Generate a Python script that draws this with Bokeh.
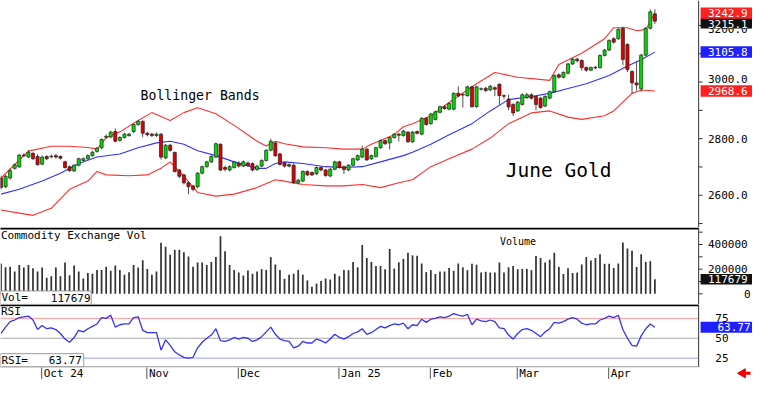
import math
from bokeh.plotting import figure
from bokeh.layouts import column
from bokeh.models import Range1d, ColumnDataSource
from bokeh.embed import file_html
from bokeh.resources import INLINE
from bokeh.core.properties import value

# ---------------- data ----------------
open_ = [2661,2630,2661,2695,2700,2742,2735,2748,2737,2710,2737,2736,2740,2737,2718,2701,2686,2706,2723,2729,
         2740,2755,2768,2805,2806,2825,2794,2804,2811,2825,2850,2861,2819,2816,2811,2816,2732,2777,2751,2689,
         2672,2644,2633,2630,2678,2701,2718,2735,2780,2698,2689,2698,2714,2703,2714,2712,2691,2703,2723,2759,
         2785,2746,2714,2708,2706,2644,2650,2684,2680,2676,2698,2689,2668,2692,2718,2701,2689,2706,2725,2735,
         2763,2729,2737,2768,2793,2785,2804,2816,2811,2823,2789,2825,2816,2872,2853,2868,2893,2913,2904,2904,
         2960,2954,2952,2983,2913,2975,2978,2972,2980,2992,2952,2940,2921,2898,2921,2945,2955,2949,2943,2915,
         2943,2966,3026,3017,3031,3064,3081,3076,3051,3042,3050,3051,3094,3113,3153,3153,3190,3133,3037,2997,
         2976,3095,3190,3241]
high = [2668,2672,2695,2712,2745,2748,2760,2752,2745,2740,2742,2744,2746,2741,2722,2705,2710,2733,2734,2745,
        2757,2771,2801,2815,2828,2836,2809,2821,2820,2854,2866,2865,2824,2821,2822,2820,2781,2782,2755,2693,
        2676,2650,2637,2682,2705,2722,2741,2786,2784,2705,2706,2722,2720,2723,2719,2716,2708,2727,2763,2800,
        2790,2750,2718,2713,2712,2658,2688,2688,2684,2702,2702,2693,2696,2722,2722,2705,2710,2733,2744,2775,
        2767,2744,2772,2797,2797,2808,2820,2820,2831,2827,2827,2829,2876,2876,2891,2899,2917,2917,2928,2964,
        2985,2960,2987,2987,2987,2981,2983,2990,2985,2996,2956,2955,2925,2933,2960,2962,2960,2953,2947,2953,
        2970,3027,3030,3038,3068,3085,3086,3080,3055,3055,3057,3098,3117,3151,3158,3192,3196,3137,3042,3075,
        3100,3194,3257,3257]
low = [2620,2625,2655,2690,2698,2735,2732,2725,2705,2706,2724,2730,2730,2726,2694,2683,2682,2702,2719,2725,
       2736,2750,2763,2799,2801,2787,2789,2800,2807,2820,2845,2805,2808,2806,2806,2726,2728,2754,2680,2660,
       2638,2604,2614,2625,2674,2697,2714,2731,2685,2684,2684,2694,2698,2699,2700,2684,2686,2699,2719,2755,
       2736,2705,2698,2698,2640,2638,2646,2668,2668,2672,2685,2665,2664,2688,2694,2675,2685,2702,2721,2731,
       2721,2725,2733,2764,2778,2762,2800,2790,2807,2785,2785,2815,2812,2846,2849,2864,2889,2902,2900,2900,
       2946,2910,2948,2909,2909,2970,2965,2968,2950,2920,2940,2900,2880,2894,2917,2940,2938,2900,2906,2911,
       2939,2962,3012,3013,3027,3060,3070,3040,3036,3038,3045,3047,3090,3109,3136,3149,3060,3035,2959,2970,
       2965,3090,3186,3205]
close_ = [2627,2667,2687,2708,2742,2740,2752,2729,2708,2735,2729,2738,2735,2731,2698,2687,2706,2729,2729,2740,
          2752,2766,2797,2808,2823,2791,2804,2816,2816,2850,2861,2819,2814,2811,2816,2735,2777,2759,2684,2667,
          2644,2630,2621,2678,2701,2718,2737,2782,2689,2692,2701,2718,2703,2718,2705,2689,2703,2723,2759,2791,
          2740,2709,2703,2703,2644,2653,2684,2672,2672,2698,2689,2670,2692,2718,2698,2691,2706,2729,2740,2763,
          2725,2740,2768,2793,2782,2804,2816,2812,2827,2789,2823,2819,2872,2850,2887,2895,2913,2906,2924,2960,
          2951,2956,2983,2913,2983,2976,2970,2985,2975,2952,2950,2912,2891,2929,2955,2955,2943,2921,2910,2949,
          2966,3023,3017,3034,3064,3081,3075,3051,3042,3051,3052,3094,3113,3147,3141,3186,3080,3044,2997,2990,
          3095,3190,3248,3215.1]
volume = [246000,215000,220000,181000,233000,213000,233000,208000,181000,213000,130000,143000,213000,143000,254000,151000,229000,181000,125000,169000,
          163000,194000,194000,220000,187000,229000,194000,155000,176000,233000,213000,273000,202000,155000,181000,415000,381000,316000,357000,357000,
          337000,303000,220000,254000,254000,233000,259000,298000,467000,345000,233000,194000,173000,148000,190000,163000,181000,200000,194000,298000,
          238000,194000,122000,155000,163000,194000,155000,109000,57000,83000,104000,125000,116000,163000,143000,194000,192000,259000,215000,395000,
          291000,259000,226000,226000,200000,363000,205000,256000,283000,334000,312000,309000,246000,176000,192000,161000,181000,181000,210000,187000,
          246000,215000,192000,244000,236000,173000,179000,173000,173000,254000,173000,215000,226000,200000,202000,202000,192000,306000,291000,254000,
          277000,334000,218000,161000,208000,169000,172000,238000,298000,270000,291000,321000,244000,244000,210000,246000,417000,368000,350000,218000,
          321000,259000,265000,117679]
rsi = [56,64,71,73,76,77,78,73,61,66,62,63,61,56,49,45,51,60,58,62,65,68,76,75,79,64,67,68,68,76,77,60,57,57,57,35,48,41,33,29,26,25,26,38,
       45,50,54,62,47,46,48,51,49,51,50,46,48,52,58,64,55,49,47,46,38,40,46,44,44,49,47,44,49,55,51,49,52,56,58,62,55,57,61,65,
       63,66,68,67,69,62,67,66,74,70,74,75,77,76,78,81,79,78,80,67,74,72,71,73,71,63,62,54,49,56,61,62,60,56,52,58,62,70,69,71,
       74,76,74,69,67,68,68,73,75,78,76,79,61,50,41,40,53,62,68,63.77]

upper_day = [0,6,11,15,19,21,23,26,30,33,37,40,43,47,51,56,58,60,62,66,71,75,79,81,86,88,90,94,99,104,108,113,120,122,127,132,134,137,139,141,143]
upper = [2661,2756,2773,2773,2769,2763,2803,2824,2864,2892,2864,2892,2909,2888,2847,2791,2774,2791,2782,2771,2768,2763,2763,2780,2814,2842,2853,2881,2939,2994,3034,3017,3006,3062,3102,3153,3192,3192,3181,3186,3242.9]
mid_day = [0,4,9,13,17,21,26,30,34,37,40,43,47,51,56,58,60,62,66,71,75,79,83,88,90,94,98,103,107,111,116,120,124,128,133,137,140,143]
middle = [2604,2621,2650,2678,2712,2735,2746,2768,2785,2791,2780,2757,2740,2718,2695,2695,2712,2718,2712,2701,2698,2701,2718,2740,2752,2780,2814,2853,2898,2938,2949,2960,2977,2994,3023,3057,3079,3105.8]
lower_day = [0,4,7,11,15,19,21,23,28,32,35,37,40,43,47,51,56,60,62,66,71,75,79,83,87,90,94,98,103,107,111,116,120,124,127,132,134,138,140,143]
lower = [2548,2537,2529,2554,2621,2650,2684,2672,2669,2672,2695,2718,2667,2610,2597,2604,2627,2655,2650,2638,2633,2633,2638,2627,2644,2655,2701,2729,2763,2802,2853,2891,2898,2876,2868,2881,2898,2960,2972,2968.6]

month_day = [9, 32, 52, 74, 94, 113, 133]
month_label = ["Oct 24", "Nov", "Dec", "Jan 25", "Feb", "Mar", "Apr"]
price_ticks = [3200, 3000, 2800, 2600]
vol_ticks = [400000, 200000]
rsi_ticks = [75, 50, 25]

# ---------------- geometry helpers (reference pixel -> data) ----------------
SX = 4.67
def ix(px):
    return (px - 0.5) / SX
def pm(y):
    return 3000 - (y - 85) * 3.39
def pv(y):
    return (305.7 - y) * 7782
def pr(y):
    return 50 + (352 - y) * 25 / 20.7

FONT = value("DejaVu Sans Mono")
FS = value("11px")
AXX = ix(713)
xr = Range1d(ix(0), ix(768))

def mk(h, ytop, ybot, f):
    p = figure(width=752, height=h, x_range=xr, y_range=Range1d(f(ybot), f(ytop)),
               output_backend="svg", toolbar_location=None,
               x_axis_type=None, y_axis_type=None, min_border=0)
    p.outline_line_color = None
    p.background_fill_color = "white"
    p.border_fill_color = "white"
    return p

def txt(p, x, y, s, color="black", size=FS, align="left"):
    p.text(x=[x], y=[y], text=[s], text_font=FONT, text_font_size=size,
           text_color=color, text_align=align, text_baseline="middle")

def box(p, y, h, color):
    p.rect(x=[ix(741.5)], y=[y], width=53 / SX, height=h, fill_color=color, line_color=None)

# ---------------- main price panel ----------------
p1 = mk(227, 0, 236.6, pm)
N = len(close_)
days = list(range(N))
src = ColumnDataSource(dict(
    x=days, h=high, l=low,
    top=[max(o, c) for o, c in zip(open_, close_)],
    bot=[min(o, c) for o, c in zip(open_, close_)],
    fill=["#00dd00" if c >= o else "#dd0000" for o, c in zip(open_, close_)],
))
p1.line(upper_day, upper, line_color="#ff3030", line_width=1.1)
p1.line(lower_day, lower, line_color="#ff3030", line_width=1.1)
p1.line(mid_day, middle, line_color="#3030ff", line_width=1.1)
p1.segment(x0="x", y0="l", x1="x", y1="h", source=src, line_color="#505050", line_width=1)
p1.vbar(x="x", width=0.68, top="top", bottom="bot", fill_color="fill", line_color="#202020",
        line_width=0.7, source=src)

txt(p1, ix(143), pm(99), "Bollinger Bands", size=value("13.2px"))
txt(p1, ix(516), pm(177), "June Gold", size=value("19.5px"))

p1.segment(x0=[AXX], y0=[pm(236.6)], x1=[AXX], y1=[pm(0)], line_color="#333333", line_width=1)
tk = list(range(2500, 3300, 100))
p1.segment(x0=[AXX] * len(tk), y0=tk, x1=[ix(717)] * len(tk), y1=tk, line_color="#333333")
for v in price_ticks:
    yy = pm(82) if v == 3000 else (pm(30) if v == 3200 else v)
    txt(p1, ix(722.5), yy, f"{v:.1f}")
bh = 12 * 3.39
box(p1, upper[-1], bh, "#ff2020"); txt(p1, ix(722.5), upper[-1], f"{upper[-1]:.1f}", "white")
box(p1, pm(24.0), bh * 0.85, "#111111"); txt(p1, ix(722.5), pm(24.0), f"{close_[-1]:.1f}", "white")
box(p1, middle[-1], bh, "#2020ff"); txt(p1, ix(722.5), middle[-1], f"{middle[-1]:.1f}", "white")
box(p1, lower[-1], bh, "#ff2020"); txt(p1, ix(722.5), lower[-1], f"{lower[-1]:.1f}", "white")

# ---------------- volume panel ----------------
p2 = mk(77, 236.6, 316.8, pv)
p2.vbar(x=days, top=volume, bottom=0, width=0.38, fill_color="#333333", line_color=None)
p2.segment(x0=[ix(-5)], y0=[pv(237.6)], x1=[AXX], y1=[pv(237.6)], line_color="black", line_width=2)
p2.segment(x0=[AXX], y0=[pv(316.8)], x1=[AXX], y1=[pv(236.6)], line_color="#333333", line_width=1)
vt = list(range(0, 500001, 100000))
p2.segment(x0=[AXX] * len(vt), y0=vt, x1=[ix(717)] * len(vt), y1=vt, line_color="#333333")
txt(p2, ix(0.5), pv(245), "Commodity Exchange Vol")
txt(p2, ix(510), pv(251.5), "Volume", size=value("10px"))
for v in vol_ticks:
    txt(p2, ix(722.5), v, str(v))
txt(p2, ix(766), 0, "0", align="right")
box(p2, volume[-1], 11 * 7782, "#111111"); txt(p2, ix(722.5), volume[-1], str(volume[-1]), "white")
p2.rect(x=[ix(46.3)], y=[pv(309.7)], width=92.7 / SX, height=14 * 7782, fill_color="white",
        line_color="#999999", line_width=1)
txt(p2, ix(1), pv(309.7), "Vol=")
txt(p2, ix(92), pv(309.7), str(volume[-1]), align="right")

# ---------------- RSI panel + date strip ----------------
p3 = mk(75, 316.8, 395, pr)
p3.segment(x0=[ix(-5)] * 3, y0=rsi_ticks, x1=[AXX] * 3, y1=rsi_ticks,
           line_color=["#ff9a9a", "#a8a8a8", "#9a9aff"], line_width=1)
p3.line(days, rsi, line_color="#3232ff", line_width=1.3)
p3.segment(x0=[ix(-5)], y0=[pr(317.6)], x1=[AXX], y1=[pr(317.6)], line_color="black", line_width=2.2)
p3.segment(x0=[ix(-5)], y0=[pr(381.7)], x1=[AXX], y1=[pr(381.7)], line_color="#999999", line_width=1)
p3.segment(x0=[AXX], y0=[pr(381.7)], x1=[AXX], y1=[pr(316.8)], line_color="#333333", line_width=1)
txt(p3, ix(0.5), pr(324.5), "RSI")
for v in rsi_ticks:
    txt(p3, ix(730), v, str(v))
box(p3, rsi[-1], 11.5 / 20.7 * 25, "#2020ff"); txt(p3, ix(766), rsi[-1], f"{rsi[-1]:.2f}", "white", align="right")
p3.rect(x=[ix(42.5)], y=[pr(374.9)], width=85 / SX, height=13.6 * 25 / 20.7, fill_color="white",
        line_color="#999999", line_width=1)
txt(p3, ix(1), pr(374.9), "RSI=")
txt(p3, ix(83), pr(374.9), f"{rsi[-1]:.2f}", align="right")
# date axis
p3.segment(x0=[d - 0.1 for d in month_day], y0=[pr(382.5)] * 7, x1=[d - 0.1 for d in month_day],
           y1=[pr(395)] * 7, line_color="#555555", line_width=1)
p3.text(x=[d + 0.35 for d in month_day], y=[pr(388.5)] * 7, text=month_label, text_font=FONT,
        text_font_size=FS, text_color="black", text_align="left", text_baseline="middle")
# red arrow
p3.segment(x0=[ix(759)], y0=[pr(388.5)], x1=[ix(766)], y1=[pr(388.5)], line_color="#ee0000", line_width=3)
p3.scatter(x=[ix(758)], y=[pr(388.5)], marker="triangle", size=9, angle=math.pi / 2,
           fill_color="#ee0000", line_color="#ee0000")

layout = column(p1, p2, p3, spacing=0)
open("out.html", "w").write(file_html(layout, INLINE))
